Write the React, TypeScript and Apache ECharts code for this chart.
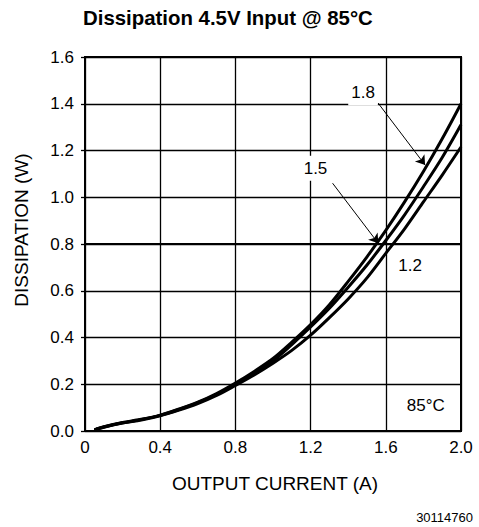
import React, { useEffect, useRef } from "react";
import * as echarts from "echarts";

// Output current (A), shared by the three curves
const currentA = [0.05, 0.1, 0.2, 0.3, 0.4, 0.5, 0.6, 0.7, 0.8, 0.9, 1.0, 1.1, 1.2, 1.3, 1.4, 1.5, 1.6, 1.7, 1.8, 1.9, 2.0];
// Dissipation (W) for output voltage 1.8 V
const diss18 = [0.005, 0.018, 0.036, 0.05, 0.068, 0.094, 0.123, 0.16, 0.205, 0.255, 0.31, 0.38, 0.455, 0.54, 0.64, 0.745, 0.858, 0.98, 1.11, 1.25, 1.4];
// Dissipation (W) for output voltage 1.5 V
const diss15 = [0.005, 0.017, 0.035, 0.049, 0.067, 0.092, 0.121, 0.157, 0.2, 0.25, 0.3, 0.37, 0.445, 0.525, 0.615, 0.71, 0.815, 0.925, 1.045, 1.17, 1.31];
// Dissipation (W) for output voltage 1.2 V
const diss12 = [0.004, 0.016, 0.034, 0.047, 0.065, 0.089, 0.117, 0.152, 0.195, 0.24, 0.29, 0.345, 0.41, 0.485, 0.565, 0.655, 0.76, 0.865, 0.98, 1.095, 1.215];

const xTicks = [0, 0.4, 0.8, 1.2, 1.6, 2.0];
const yTicks = [0, 0.2, 0.4, 0.6, 0.8, 1.0, 1.2, 1.4, 1.6];

const labels = [
  { text: "1.8", at: [1.479, 1.446], bg: true },
  { text: "1.5", at: [1.226, 1.124], bg: true },
  { text: "1.2", at: [1.729, 0.707], bg: false },
  { text: "85°C", at: [1.813, 0.108], bg: false },
];
const arrows = [
  { from: [1.559, 1.403], to: [1.809, 1.138] },
  { from: [1.317, 1.06], to: [1.56, 0.803] },
];

const FONT = "Liberation Sans, Arial, sans-serif";

const zip = (xs: number[], ys: number[]) => xs.map((x, i) => [x, ys[i]]);

export default function App() {
  const ref = useRef<HTMLDivElement>(null);
  useEffect(() => {
    document.body.style.margin = "0";
    const chart = echarts.init(ref.current!, null, { renderer: "svg" });
    const lineSeries = (name: string, data: number[][], extra: any = {}) => ({
      type: "line",
      name,
      data,
      smooth: 0.3,
      symbol: "none",
      lineStyle: { color: "#000", width: 3 },
      z: 3,
      ...extra,
    });
    chart.setOption({
      animation: false,
      backgroundColor: "#fff",
      title: {
        text: "Dissipation 4.5V Input @ 85°C",
        left: 83,
        top: 8,
        padding: 0,
        textStyle: { fontFamily: FONT, fontSize: 20.4, fontWeight: "bold", color: "#000" },
      },
      grid: {
        left: 85,
        right: 18,
        top: 57,
        bottom: 96,
        show: true,
        borderColor: "#000",
        borderWidth: 2,
        backgroundColor: "transparent",
      },
      xAxis: {
        type: "value",
        min: 0,
        max: 2,
        interval: 0.4,
        axisLine: { show: true, lineStyle: { color: "#000", width: 2 } },
        axisTick: { show: false },
        splitLine: { show: true, lineStyle: { color: "#000", width: 1.3 } },
        axisLabel: {
          color: "#000",
          fontFamily: FONT,
          fontSize: 17,
          margin: 8,
          formatter: (v: number) => {
            const t = xTicks.find((k) => Math.abs(k - v) < 1e-6);
            if (t === undefined) return "";
            return t === 0 ? "0" : t.toFixed(1);
          },
        },
      },
      yAxis: {
        type: "value",
        min: 0,
        max: 1.6,
        interval: 0.2,
        axisLine: { show: true, lineStyle: { color: "#000", width: 2 } },
        axisTick: { show: true, length: 4, lineStyle: { color: "#000", width: 1.3 } },
        splitLine: { show: true, lineStyle: { color: "#000", width: 1.3 } },
        axisLabel: {
          color: "#000",
          fontFamily: FONT,
          fontSize: 17,
          margin: 11,
          formatter: (v: number) => {
            const t = yTicks.find((k) => Math.abs(k - v) < 1e-6);
            return t === undefined ? "" : t.toFixed(1);
          },
        },
      },
      graphic: [
        {
          type: "text",
          x: 21.5,
          y: 230,
          rotation: Math.PI / 2,
          style: {
            text: "DISSIPATION (W)",
            fontFamily: FONT,
            fontSize: 19,
            fill: "#000",
            textAlign: "center",
            textVerticalAlign: "middle",
          },
        },
        {
          type: "text",
          x: 275,
          y: 483,
          style: {
            text: "OUTPUT CURRENT (A)",
            fontFamily: FONT,
            fontSize: 19,
            fill: "#000",
            textAlign: "center",
            textVerticalAlign: "middle",
          },
        },
        {
          type: "text",
          x: 473,
          y: 517,
          style: {
            text: "30114760",
            fontFamily: FONT,
            fontSize: 13,
            fill: "#000",
            textAlign: "right",
            textVerticalAlign: "middle",
          },
        },
      ],
      series: [
        lineSeries("1.8", zip(currentA, diss18), {
          markPoint: {
            symbol: "circle",
            symbolSize: 0,
            silent: true,
            data: labels.map((l) => ({
              coord: l.at,
              value: l.text,
              label: {
                show: true,
                position: "inside",
                formatter: l.text,
                color: "#000",
                fontFamily: FONT,
                fontSize: 17,
                backgroundColor: l.bg ? "#fff" : "transparent",
                padding: [2, 3, 6, 3],
              },
            })),
          },
          markLine: {
            silent: true,
            symbol: ["none", "arrow"],
            symbolSize: 9,
            label: { show: false },
            lineStyle: { color: "#000", width: 1, type: "solid" },
            data: arrows.map((a) => [{ coord: a.from }, { coord: a.to }]),
          },
        }),
        lineSeries("1.5", zip(currentA, diss15), {
          markLine: {
            silent: true,
            symbol: "none",
            label: { show: false },
            lineStyle: { color: "#000", width: 2, type: "solid" },
            data: [{ yAxis: 0.8 }],
          },
        }),
        lineSeries("1.2", zip(currentA, diss12)),
      ],
    });
    return () => chart.dispose();
  }, []);
  return <div ref={ref} style={{ width: 479, height: 527 }} />;
}
